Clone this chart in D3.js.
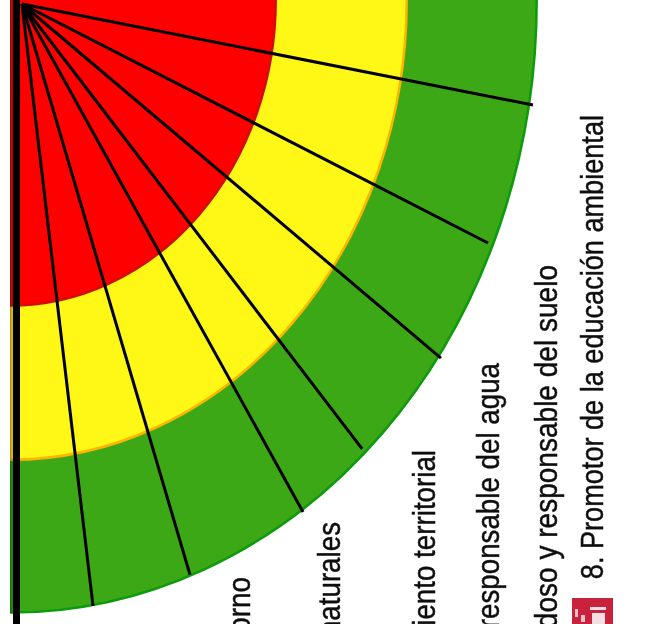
<!DOCTYPE html>
<html><head><meta charset="utf-8">
<script src="https://cdn.jsdelivr.net/npm/d3@7"></script>
<style>html,body{margin:0;padding:0;background:#fff;overflow:hidden}svg{display:block}</style>
</head><body><svg id="c" width="664" height="624"></svg>
<script>
const bands = ["Rojo","Amarillo","Verde"];
const bandOuter = [266, 397, 527];
const bandStretch = [1.15, 1.159, 1.163];
const bandFill = ["#ff0000","#fff712","#3da816"];
const bandEdge = ["#d01000","#ffb400","#0a9a0a"];
const spokeAngles = [11.18, 27.15, 40.2, 52.6, 61.05, 73.6, 83.27];
const spokeReach = [520.9, 523.7, 548.5, 560, 580.5, 595, 606];
const labels = ["8. Promotor de la educación ambiental","7. Uso cuidadoso y responsable del suelo","6. Uso eficiente y responsable del agua","5. Ordenamiento territorial","4. Conservación de los recursos naturales","3. Cuidado del entorno"];
const labelBase = [603, 557, 499, 435, 340, 250];
const labelEnd = [115, 265, 363, 450, 522, 577];
const labelFit = [0.875, 0.905, 0.895, 0.895, 0.895, 0.9];

const W=664,H=624;
const svg=d3.select("#c");
const defs=svg.append("defs");
defs.append("filter").attr("id","soft").append("feGaussianBlur").attr("stdDeviation",0.55);
defs.append("clipPath").attr("id","clip").append("rect").attr("x",10).attr("y",0).attr("width",W).attr("height",H);
const root=svg.append("g").attr("clip-path","url(#clip)");
const rScale=d3.scaleLinear().domain([0,527]).range([0,527]);
const arc=d3.arc().startAngle(0).endAngle(Math.PI);
root.append("g").selectAll("path").data(bands.map((b,i)=>i).reverse()).join("path")
  .attr("transform",i=>`translate(10,0) scale(1,${bandStretch[i]})`)
  .attr("d",i=>arc({innerRadius:0,outerRadius:rScale(bandOuter[i])-0.3}))
  .attr("fill",i=>bandFill[i]).attr("stroke",i=>bandEdge[i]).attr("stroke-width",2.5)
  .attr("vector-effect","non-scaling-stroke").attr("filter","url(#soft)");
root.append("rect").attr("x",10).attr("y",0).attr("width",3).attr("height",613).attr("fill","#000").attr("opacity",0.22);
const cx=22,cy=4;
const lenScale=d3.scaleLinear().domain([0,1]).range([0,1]);
root.selectAll("line.s").data(spokeAngles).join("line").attr("class","s")
  .attr("x1",cx).attr("y1",cy)
  .attr("x2",(a,i)=>cx+lenScale(spokeReach[i])*Math.cos(a*Math.PI/180))
  .attr("y2",(a,i)=>cy+lenScale(spokeReach[i])*Math.sin(a*Math.PI/180))
  .attr("stroke","#000").attr("stroke-width",3);
root.append("line").attr("x1",16.5).attr("x2",16.5).attr("y1",0).attr("y2",H).attr("stroke","#000").attr("stroke-width",7);
svg.append("g").selectAll("text").data(labels).join("text")
  .attr("transform",(d,i)=>`translate(${labelBase[i]},${labelEnd[i]}) rotate(-90) scale(${labelFit[i]},1)`)
  .attr("text-anchor","end").attr("font-family","Liberation Sans").attr("font-size",31).attr("fill","#111")
  .attr("stroke","#111").attr("stroke-width",0.45)
  .attr("filter","url(#soft)").text(d=>d);
const logo=svg.append("g").attr("filter","url(#soft)");
logo.append("rect").attr("x",572).attr("y",598).attr("width",41).attr("height",30).attr("fill","#c8203c");
logo.append("rect").attr("x",590).attr("y",607).attr("width",16).attr("height",3).attr("fill","#f4dfe2");
logo.append("rect").attr("x",592).attr("y",613).attr("width",13).attr("height",11).attr("fill","#f4dfe2");
logo.append("rect").attr("x",575).attr("y",609).attr("width",3).attr("height",8).attr("fill","#eec0c8");
logo.append("rect").attr("x",581).attr("y",615).attr("width",4).attr("height",7).attr("fill","#eec0c8");
</script></body></html>
